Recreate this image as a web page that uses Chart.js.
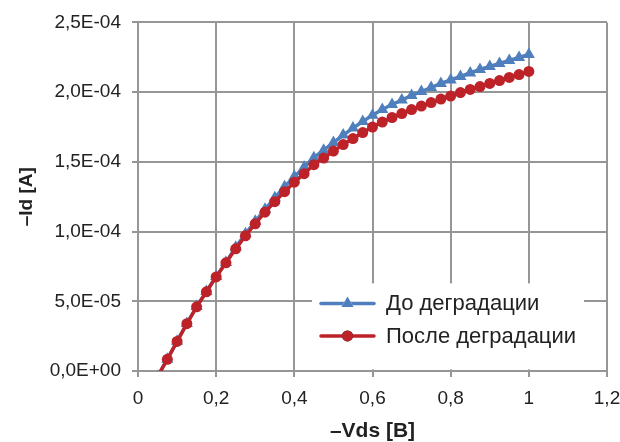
<!DOCTYPE html>
<html>
<head>
<meta charset="utf-8">
<script src="https://cdn.jsdelivr.net/npm/chart.js@4.4.1/dist/chart.umd.min.js"></script>
<style>
  html, body { margin: 0; padding: 0; background: #fff; }
  #wrap { width: 620px; height: 442px; }
</style>
</head>
<body>
<div id="wrap"><canvas id="ivChart"></canvas></div>
<script>
// drain voltage, V (first point sits just below zero current)
const VDS = [
  0.05, 0.075, 0.1, 0.125, 0.15, 0.175, 0.2, 0.225, 0.25, 0.275,
  0.3, 0.325, 0.35, 0.375, 0.4, 0.425, 0.45, 0.475, 0.5, 0.525,
  0.55, 0.575, 0.6, 0.625, 0.65, 0.675, 0.7, 0.725, 0.75, 0.775,
  0.8, 0.825, 0.85, 0.875, 0.9, 0.925, 0.95, 0.975, 1.0
];
// drain current, A
const ID_BEFORE = [
  -0.4e-5, 0.85e-5, 2.13e-5, 3.40e-5, 4.62e-5, 5.70e-5, 6.78e-5, 7.79e-5, 8.87e-5, 9.84e-5,
  10.74e-5, 11.60e-5, 12.43e-5, 13.22e-5, 13.94e-5, 14.62e-5, 15.30e-5, 15.84e-5, 16.38e-5, 16.92e-5,
  17.42e-5, 17.89e-5, 18.35e-5, 18.75e-5, 19.11e-5, 19.43e-5, 19.76e-5, 20.04e-5, 20.33e-5, 20.62e-5,
  20.87e-5, 21.12e-5, 21.37e-5, 21.62e-5, 21.84e-5, 22.05e-5, 22.27e-5, 22.49e-5, 22.70e-5
];
const ID_AFTER = [
  -0.4e-5, 0.84e-5, 2.12e-5, 3.39e-5, 4.60e-5, 5.68e-5, 6.75e-5, 7.76e-5, 8.76e-5, 9.70e-5,
  10.56e-5, 11.39e-5, 12.14e-5, 12.86e-5, 13.54e-5, 14.15e-5, 14.80e-5, 15.27e-5, 15.77e-5, 16.24e-5,
  16.67e-5, 17.10e-5, 17.49e-5, 17.85e-5, 18.18e-5, 18.46e-5, 18.75e-5, 19.00e-5, 19.25e-5, 19.50e-5,
  19.72e-5, 19.97e-5, 20.19e-5, 20.40e-5, 20.62e-5, 20.83e-5, 21.05e-5, 21.26e-5, 21.48e-5
];
const SERIES = ["До деградации", "После деградации"];
const X_TICKS = [0, 0.2, 0.4, 0.6, 0.8, 1.0, 1.2];
const Y_TICKS = [0, 5e-5, 1e-4, 1.5e-4, 2e-4, 2.5e-4];

const BLUE = "#4f7fbd";
const RED = "#bd2228";
const GRID = "#969696";
const FONT = "'Liberation Sans', Arial, sans-serif";

function fmtSci(v) {
  if (Math.abs(v) < 1e-12) return "0,0E+00";
  const parts = v.toExponential(1).split("e");
  const ex = parseInt(parts[1], 10);
  return parts[0].replace(".", ",") + "E" + (ex < 0 ? "-" : "+") + String(Math.abs(ex)).padStart(2, "0");
}
function fmtX(v) {
  return String(Math.round(v * 10) / 10).replace(".", ",");
}
function toPoints(ys) {
  return VDS.map((x, i) => ({ x: x, y: ys[i] }));
}

// legend drawn inside the plot, over the grid, on a white box
const insideLegend = {
  id: "insideLegend",
  afterDatasetsDraw(chart) {
    const ctx = chart.ctx;
    const area = chart.chartArea;
    const x0 = area.left + 174, y0 = area.top + 261;
    ctx.save();
    ctx.fillStyle = "#fff";
    ctx.fillRect(x0, y0, 272, 86);
    const rows = [chart.data.datasets[0], chart.data.datasets[1]];
    rows.forEach((ds, i) => {
      const cy = y0 + 20 + i * 32.5;
      ctx.strokeStyle = ds.borderColor;
      ctx.lineWidth = ds.borderWidth;
      ctx.lineCap = "round";
      ctx.beginPath();
      ctx.moveTo(x0 + 9, cy);
      ctx.lineTo(x0 + 62, cy);
      ctx.stroke();
      Chart.helpers.drawPoint(ctx, {
        pointStyle: ds.pointStyle, radius: ds.pointRadius, borderWidth: 0, rotation: 0
      }, x0 + 35.5, cy);
      ctx.fillStyle = ds.pointBackgroundColor;
      ctx.fill();
      ctx.fillStyle = "#222";
      ctx.font = "22px " + FONT;
      ctx.textBaseline = "middle";
      ctx.fillText(ds.label, x0 + 74, cy + 1);
    });
    ctx.restore();
  }
};

new Chart(document.getElementById("ivChart"), {
  type: "line",
  data: {
    datasets: [
      {
        label: SERIES[0],
        data: toPoints(ID_BEFORE),
        borderColor: BLUE,
        backgroundColor: BLUE,
        pointBackgroundColor: BLUE,
        pointBorderWidth: 0,
        pointStyle: "triangle",
        pointRadius: 7,
        borderWidth: 3.5,
        order: 2,
        clip: { left: 10, top: 10, right: 10, bottom: 0 }
      },
      {
        label: SERIES[1],
        data: toPoints(ID_AFTER),
        borderColor: RED,
        backgroundColor: RED,
        pointBackgroundColor: RED,
        pointBorderWidth: 0,
        pointStyle: "circle",
        pointRadius: 5.5,
        borderWidth: 3.5,
        order: 1,
        clip: { left: 10, top: 10, right: 10, bottom: 0 }
      }
    ]
  },
  options: {
    responsive: true,
    maintainAspectRatio: false,
    animation: false,
    events: [],
    layout: { padding: { left: 0, top: 21, right: 0, bottom: 0 } },
    plugins: {
      legend: { display: false },
      tooltip: { enabled: false }
    },
    scales: {
      x: {
        type: "linear",
        min: 0,
        max: 1.2,
        afterBuildTicks: s => { s.ticks = X_TICKS.map(v => ({ value: v })); },
        afterFit: s => { s.height = 71; s.paddingRight = 13; },
        grid: { color: GRID, lineWidth: 2, tickLength: 6 },
        border: { color: GRID, width: 2 },
        ticks: {
          color: "#222",
          padding: 10,
          maxRotation: 0,
          font: { family: FONT, size: 19 },
          callback: v => fmtX(v)
        },
        title: {
          display: true,
          text: "–Vds [B]",
          color: "#222",
          padding: 0,
          font: { family: FONT, size: 21, weight: "bold", lineHeight: 1 }
        }
      },
      y: {
        min: 0,
        max: 2.5e-4,
        afterBuildTicks: s => { s.ticks = Y_TICKS.map(v => ({ value: v })); },
        afterFit: s => { s.width = 138; },
        grid: { color: GRID, lineWidth: 2, tickLength: 6 },
        border: { color: GRID, width: 2 },
        ticks: {
          color: "#222",
          padding: 11,
          font: { family: FONT, size: 19 },
          callback: v => fmtSci(v)
        },
        title: {
          display: true,
          text: "–Id [A]",
          color: "#222",
          padding: { top: 17, bottom: 0 },
          font: { family: FONT, size: 19, weight: "bold", lineHeight: 1 }
        }
      }
    }
  },
  plugins: [insideLegend]
});
</script>
</body>
</html>
